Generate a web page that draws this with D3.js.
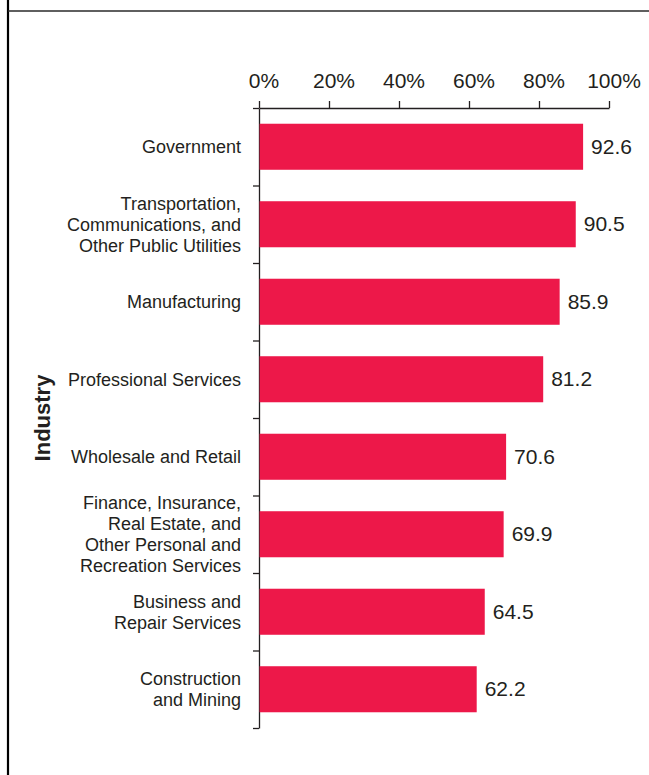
<!DOCTYPE html>
<html>
<head>
<meta charset="utf-8">
<script src="https://cdn.jsdelivr.net/npm/d3@7"></script>
<style>
  html, body { margin: 0; padding: 0; background: #fff; }
  svg { display: block; }
  text { font-family: "Liberation Sans", Arial, Helvetica, sans-serif; fill: #231f20; }
</style>
</head>
<body>
<svg id="chart" width="649" height="775"></svg>
<script>
// Share of workers by industry (percent)
const categories = [
  "Government",
  "Transportation,\nCommunications, and\nOther Public Utilities",
  "Manufacturing",
  "Professional Services",
  "Wholesale and Retail",
  "Finance, Insurance,\nReal Estate, and\nOther Personal and\nRecreation Services",
  "Business and\nRepair Services",
  "Construction\nand Mining"
];
const values = [92.6, 90.5, 85.9, 81.2, 70.6, 69.9, 64.5, 62.2];
const xTicks = [0, 20, 40, 60, 80, 100];
const axisTitle = "Industry";

const svg = d3.select("#chart");
const ink = "#231f20";
const barColor = "#ed1849";

// frame: heavy rule on the left, thin rule across the top
svg.append("line")
  .attr("x1", 8).attr("x2", 8).attr("y1", 0).attr("y2", 775)
  .attr("stroke", "#000").attr("stroke-width", 2.2);
svg.append("line")
  .attr("x1", 8).attr("x2", 649).attr("y1", 11).attr("y2", 11)
  .attr("stroke", "#2a2a2a").attr("stroke-width", 1.5);

const x = d3.scaleLinear().domain([0, 100]).range([259, 609]);
const y = d3.scaleBand().domain(categories).range([108, 728])
  .paddingInner(0.406).paddingOuter(0.203);

// category boundaries for the left axis ticks
const edge = d3.scaleLinear().domain([0, categories.length]).range(y.range());

// x axis along the top
const xAxis = svg.append("g")
  .attr("transform", `translate(0,${y.range()[0]})`)
  .call(d3.axisTop(x).tickValues(xTicks).tickSize(7).tickSizeOuter(0)
    .tickFormat(d => d + "%"));
xAxis.select(".domain").attr("stroke", ink).attr("stroke-width", 1.3);
xAxis.selectAll(".tick line").attr("stroke", ink).attr("stroke-width", 1.3);
xAxis.selectAll(".tick text")
  .attr("y", -20).attr("dy", 0).attr("dx", 4.5)
  .attr("font-size", 21)
  .attr("fill", ink)
  .style("font-family", '"Liberation Sans", Arial, Helvetica, sans-serif');

// y axis with ticks between categories
const yAxis = svg.append("g")
  .attr("transform", `translate(${x(0)},0)`)
  .call(d3.axisLeft(edge).tickValues(d3.range(categories.length + 1))
    .tickSize(6).tickSizeOuter(0).tickFormat(""));
yAxis.select(".domain").attr("stroke", ink).attr("stroke-width", 1.3);
yAxis.selectAll(".tick line").attr("stroke", ink).attr("stroke-width", 1.3);

// bars
svg.append("g").selectAll("rect")
  .data(values)
  .join("rect")
  .attr("x", x(0) + 0.6)
  .attr("y", (d, i) => y(categories[i]))
  .attr("width", d => x(d) - x(0) - 0.6)
  .attr("height", y.bandwidth())
  .attr("fill", barColor);

// value labels
svg.append("g").selectAll("text")
  .data(values)
  .join("text")
  .attr("x", d => x(d) + 8)
  .attr("y", (d, i) => y(categories[i]) + y.bandwidth() / 2 + 7)
  .attr("font-size", 21)
  .text(d => d.toFixed(1));

// category labels, right-aligned, possibly on several lines
const lineH = 21;
svg.append("g").selectAll("text")
  .data(categories)
  .join("text")
  .attr("text-anchor", "end")
  .attr("font-size", 18)
  .each(function (d) {
    const lines = d.split("\n");
    const cy = y(d) + y.bandwidth() / 2;
    d3.select(this).selectAll("tspan")
      .data(lines)
      .join("tspan")
      .attr("x", 241)
      .attr("y", (l, i) => cy + (i - (lines.length - 1) / 2) * lineH + 6.5)
      .text(l => l);
  });

// axis title
svg.append("text")
  .attr("transform", `translate(49.5,${(y.range()[0] + y.range()[1]) / 2}) rotate(-90)`)
  .attr("text-anchor", "middle")
  .attr("font-size", 22)
  .attr("font-weight", "bold")
  .text(axisTitle);
</script>
</body>
</html>
